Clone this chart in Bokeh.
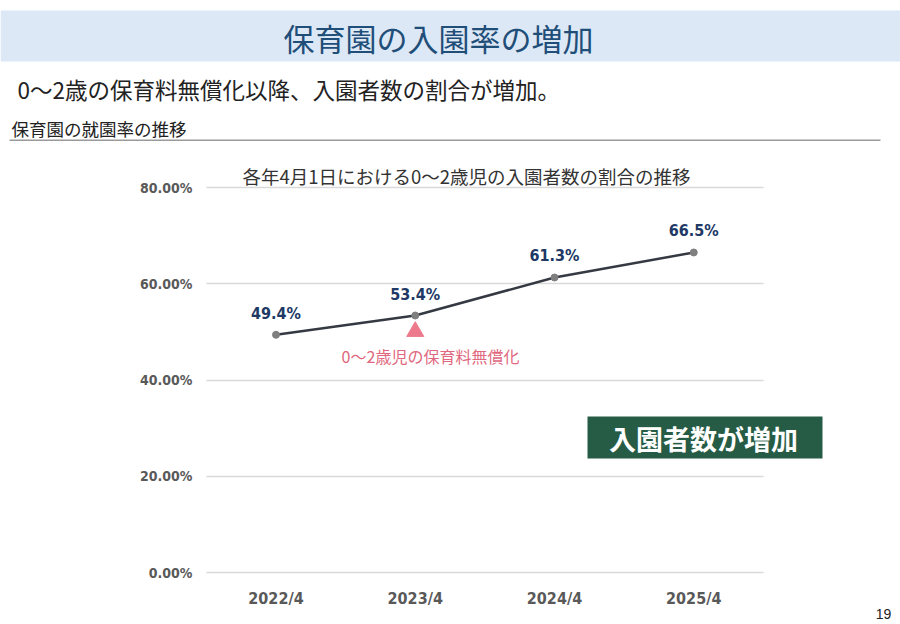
from bokeh.plotting import figure
from bokeh.models import (Range1d, FixedTicker, PrintfTickFormatter, Grid,
                          Label, BoxAnnotation, ColumnDataSource, LinearAxis)
from bokeh.core.properties import value
from bokeh.embed import file_html
from bokeh.resources import INLINE

# ---- data ----
periods = ["2022/4", "2023/4", "2024/4", "2025/4"]
rates = [49.4, 53.4, 61.3, 66.5]
rate_labels = ["49.4%", "53.4%", "61.3%", "66.5%"]
y_ticks = [0, 20, 40, 60, 80]
page_title = "保育園の入園率の増加"
subtitle = "0～2歳の保育料無償化以降、入園者数の割合が増加。"
section_title = "保育園の就園率の推移"
chart_title = "各年4月1日における0～2歳児の入園者数の割合の推移"
event_period = "2023/4"
event_text = "0～2歳児の保育料無償化"
callout_text = "入園者数が増加"
page_number = "19"

JP = "Noto Sans CJK JP"
NARROW = "Liberation Sans Narrow, DejaVu Sans Condensed, sans-serif"

W, H = 900, 624
# page-pixel layout of the chart area
CX0, STEP = 275.5, 139.25          # pixel of first category centre, pixels per category
Y0PX, YPX = 572.0, 4.8125          # pixel of 0 %, pixels per 1 %

x_start, x_end = -CX0 / STEP, (W - CX0) / STEP
y_start, y_end = -(H - Y0PX) / YPX, Y0PX / YPX

def dx(px):
    return (px - CX0) / STEP

def dy(py):
    return (Y0PX - py) / YPX

xs = list(range(len(periods)))

p = figure(width=W, height=H, x_range=Range1d(x_start, x_end), y_range=Range1d(y_start, y_end),
           output_backend="svg", toolbar_location=None, x_axis_type=None, y_axis_type=None,
           min_border=0)
p.outline_line_color = None
p.background_fill_color = "white"
p.border_fill_color = "white"
p.xgrid.visible = False
p.ygrid.visible = False

# y axis at left edge of the chart area
yax = LinearAxis(fixed_location=-0.5, ticker=FixedTicker(ticks=y_ticks),
                 formatter=PrintfTickFormatter(format="%.2f%%"))
yax.axis_line_color = None
yax.major_tick_line_color = None
yax.minor_tick_line_color = None
yax.major_label_text_font = NARROW
yax.major_label_text_font_style = "bold"
yax.major_label_text_font_size = "14px"
yax.major_label_text_color = "#595959"
yax.major_label_standoff = 8
p.add_layout(yax, "left")

xax = LinearAxis(fixed_location=0, ticker=FixedTicker(ticks=xs),
                 major_label_overrides={i: s for i, s in zip(xs, periods)})
xax.axis_line_color = None
xax.major_tick_line_color = None
xax.minor_tick_line_color = None
xax.major_label_text_font = NARROW
xax.major_label_text_font_style = "bold"
xax.major_label_text_font_size = "16px"
xax.major_label_text_color = "#595959"
xax.major_label_standoff = 10
p.add_layout(xax, "below")

grid = Grid(dimension=1, ticker=yax.ticker, cross_bounds=(-0.5, len(periods) - 0.5),
            grid_line_color="#d9d9d9", grid_line_width=1.5)
p.add_layout(grid)

src = ColumnDataSource(dict(x=xs, y=rates, lab=rate_labels))
p.line("x", "y", source=src, line_color="#353a42", line_width=2.5)
p.scatter("x", "y", source=src, size=7, fill_color="#7f7f7f", line_color="#7f7f7f")
p.text("x", "y", text="lab", source=src, text_align="center", text_baseline="bottom",
       y_offset=-12, text_font=value(NARROW), text_font_style="bold",
       text_font_size="16px", text_color="#203864")

# event marker
ev = periods.index(event_period)
p.scatter([ev], [dy(331)], marker="triangle", size=17,
          fill_color="#ec7a8c", line_color="#ec7a8c")
p.add_layout(Label(x=dx(430), y=dy(355), text=event_text, text_align="center",
                   text_baseline="middle", text_font=JP, text_font_size="16px",
                   text_color="#e0677d"))

# page header
p.add_layout(BoxAnnotation(left=dx(0), right=dx(900), top=dy(10), bottom=dy(61),
                           fill_color="#dce8f5", fill_alpha=1, line_color=None, level="underlay"))
p.add_layout(Label(x=dx(438), y=dy(37), text=page_title, text_align="center",
                   text_baseline="middle", text_font=JP, text_font_size="31px",
                   text_color="#1f4e79"))
p.add_layout(Label(x=dx(17), y=dy(88), text=subtitle, text_align="left",
                   text_baseline="middle", text_font=JP, text_font_size="22.5px",
                   text_color="#222222"))
p.add_layout(Label(x=dx(11), y=dy(128), text=section_title, text_align="left",
                   text_baseline="middle", text_font=JP, text_font_size="17.5px",
                   text_color="#222222"))
p.add_layout(BoxAnnotation(left=dx(9), right=dx(880), top=dy(139), bottom=dy(140.5),
                           fill_color="#9a9a9a", fill_alpha=1, line_color=None))

# chart title
p.add_layout(Label(x=dx(466), y=dy(175), text=chart_title, text_align="center",
                   text_baseline="middle", text_font=JP, text_font_size="18.5px",
                   text_color="#333333"))

# callout box
p.add_layout(BoxAnnotation(left=dx(587), right=dx(822), top=dy(416), bottom=dy(458),
                           fill_color="#265c45", fill_alpha=1, line_color=None))
p.add_layout(Label(x=dx(703), y=dy(438), text=callout_text, text_align="center",
                   text_baseline="middle", text_font=JP, text_font_style="bold",
                   text_font_size="27px", text_color="white"))

# page number
p.add_layout(Label(x=dx(883), y=dy(613), text=page_number, text_align="center",
                   text_baseline="middle", text_font="Liberation Sans",
                   text_font_size="14px", text_color="#222222"))

open("out.html", "w").write(file_html(p, INLINE))
